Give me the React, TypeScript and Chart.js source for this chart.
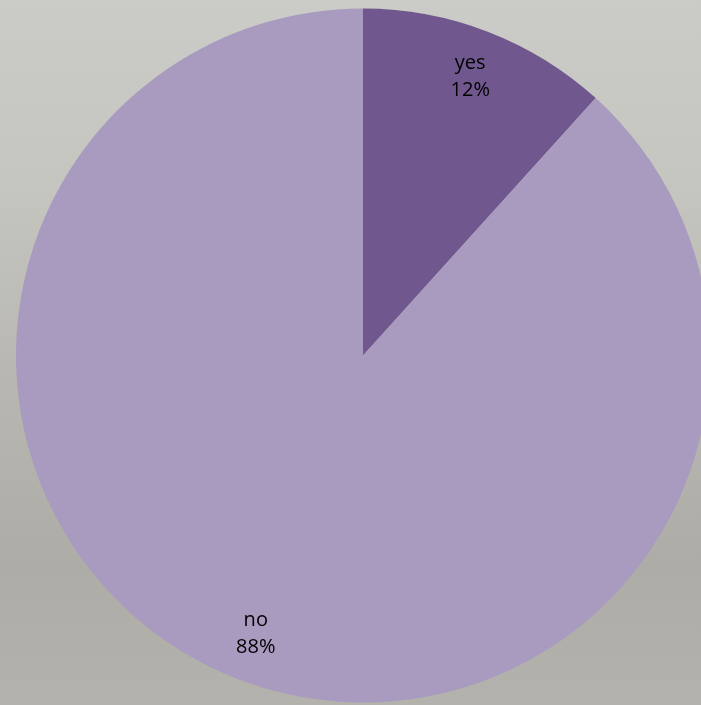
import React, { useEffect, useRef } from "react";
import { Chart, registerables } from "chart.js";

Chart.register(...registerables);

const categories = ["yes", "no"];
const values = [11.7, 88.3];
const percentLabels = ["12%", "88%"];
const colors = ["#70588f", "#a99ac0"];

const labelPlugin = {
  id: "insideLabels",
  afterDatasetsDraw(chart: any) {
    const ctx = chart.ctx;
    const meta = chart.getDatasetMeta(0);
    ctx.save();
    ctx.fillStyle = "#000000";
    ctx.font = "20px 'Open Sans', 'Noto Sans', sans-serif";
    ctx.textAlign = "center";
    ctx.textBaseline = "middle";
    meta.data.forEach((arc: any, i: number) => {
      const p = arc.getProps(["x", "y", "startAngle", "endAngle", "outerRadius"], true);
      const mid = (p.startAngle + p.endAngle) / 2;
      const r = p.outerRadius * 0.86;
      const cx = p.x + Math.cos(mid) * r;
      const cy = p.y + Math.sin(mid) * r;
      ctx.fillText(categories[i], cx, cy - 14);
      ctx.fillText(percentLabels[i], cx, cy + 13);
    });
    ctx.restore();
  },
};

export default function App() {
  const ref = useRef<HTMLCanvasElement | null>(null);

  useEffect(() => {
    document.body.style.margin = "0";
    if (!ref.current) return;
    const chart = new Chart(ref.current, {
      type: "pie",
      data: {
        labels: categories,
        datasets: [
          {
            data: values,
            backgroundColor: colors,
            borderWidth: 0,
          },
        ],
      },
      options: {
        animation: false,
        responsive: false,
        maintainAspectRatio: false,
        layout: { padding: { left: 16, top: 7, right: 2, bottom: 1 } },
        plugins: {
          legend: { display: false },
          tooltip: { enabled: false },
        },
      },
      plugins: [labelPlugin],
    });
    return () => chart.destroy();
  }, []);

  return (
    <div
      style={{
        position: "fixed",
        left: 0,
        top: 0,
        width: 701,
        height: 705,
        overflow: "hidden",
        background:
          "linear-gradient(180deg, #cbcbc7 0%, #c6c6c1 25%, #b7b6b0 55%, #adaca6 80%, #b3b2ac 100%)",
      }}
    >
      <canvas ref={ref} width={712} height={705} style={{ display: "block", width: 712, height: 705 }} />
    </div>
  );
}
